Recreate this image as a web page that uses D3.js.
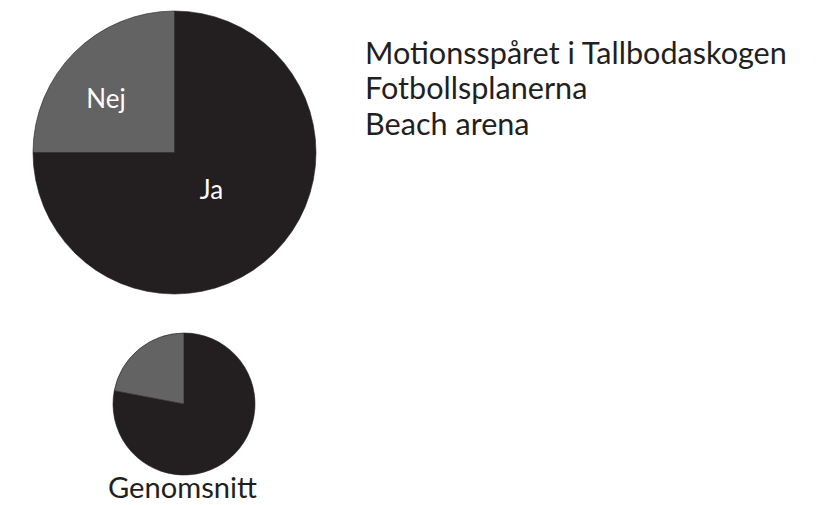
<!DOCTYPE html>
<html>
<head>
<meta charset="utf-8">
<script src="https://cdn.jsdelivr.net/npm/d3@7"></script>
<style>
  body { margin: 0; background: #fff; }
  text { font-family: Lato, "Open Sans", sans-serif; }
</style>
</head>
<body>
<svg id="chart"></svg>
<script>
// size of the picture
var width = 827;
var height = 505;

// data
const categories = ["Ja", "Nej"];
const mainValues = [75, 25];       // Motionsspåret / Fotbollsplanerna / Beach arena
const averageValues = [78, 22];    // Genomsnitt
const legendLabels = ["Motionsspåret i Tallbodaskogen", "Fotbollsplanerna", "Beach arena"];
const averageLabel = "Genomsnitt";

const color = d3.scaleOrdinal()
    .domain(categories)
    .range(["#231f20", "#636363"]);

var svg = d3.select("#chart")
    .attr("width", width)
    .attr("height", height);

var pie = d3.pie()
    .sort(null)
    .value((d) => d.value);

function drawPie(values, cx, cy, r) {
    var data = categories.map((c, i) => ({ name: c, value: values[i] }));
    var arc = d3.arc().innerRadius(0).outerRadius(r);
    var g = svg.append("g").attr("transform", `translate(${cx},${cy})`);
    var arcs = pie(data);
    g.selectAll("path")
        .data(arcs)
        .join("path")
        .attr("d", arc)
        .attr("fill", (d) => color(d.data.name))
        .attr("stroke", "#231f20")
        .attr("stroke-width", 0.6);
    return { g: g, arcs: arcs, r: r };
}

function fitText(sel, target) {
    var w = sel.node().getComputedTextLength();
    var fs = parseFloat(sel.style("font-size"));
    sel.style("font-size", (fs * target / w) + "px");
}

// big pie
var big = drawPie(mainValues, 174.5, 152.5, 141.5);

// labels inside the big pie (angle shift / radius per slice)
const labelPos = { Ja: { da: 0, k: 0.37 }, Nej: { da: -0.12, k: 0.615 } };
big.g.selectAll("text")
    .data(big.arcs)
    .join("text")
    .attr("transform", (d) => {
        var p = labelPos[d.data.name];
        var a = (d.startAngle + d.endAngle) / 2 + p.da;
        var pt = d3.pointRadial(a, big.r * p.k);
        return `translate(${pt[0]},${pt[1]})`;
    })
    .attr("text-anchor", "middle")
    .attr("dy", "0.36em")
    .attr("fill", "#ffffff")
    .style("font-size", "26px")
    .text((d) => d.data.name);

// small pie (average)
drawPie(averageValues, 184, 404, 71);

var avg = svg.append("text")
    .attr("x", 182.5)
    .attr("y", 498)
    .attr("text-anchor", "middle")
    .attr("fill", "#231f20")
    .style("font-size", "26px")
    .text(averageLabel);
fitText(avg, 149);

// legend texts
var legend = svg.append("g");
var first = null;
legendLabels.forEach((t, i) => {
    var tx = legend.append("text")
        .attr("x", 365)
        .attr("y", 64 + i * 35.3)
        .attr("fill", "#231f20")
        .style("font-size", "26px")
        .text(t);
    if (i === 0) {
        fitText(tx, 422);
        first = tx.style("font-size");
    } else {
        tx.style("font-size", first);
    }
});
</script>
</body>
</html>
